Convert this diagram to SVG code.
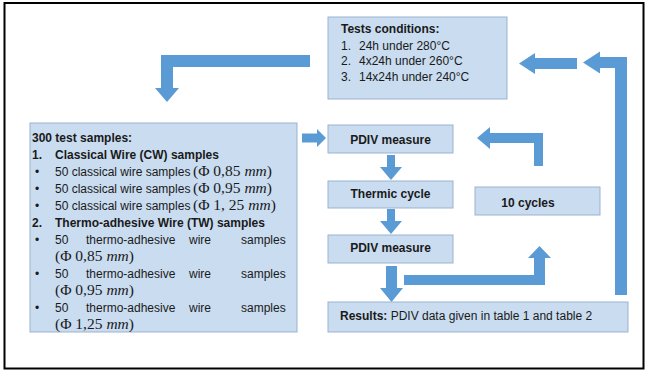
<svg xmlns="http://www.w3.org/2000/svg" width="646" height="372" viewBox="0 0 646 372">
<style>
.box{fill:#c9dcf0;stroke:#9bb3cf;stroke-width:1}
.arr{fill:#5b9bd5}
text{font-family:"Liberation Sans",Arial,sans-serif;font-size:12px;fill:#1a1a1a}
.b{font-weight:bold}
.m{font-family:"Liberation Serif","Times New Roman",serif;font-size:15.5px}
.i{font-style:italic}
.c{text-anchor:middle}
</style>
<rect x="0" y="0" width="646" height="372" fill="#ffffff"/>
<rect x="4.5" y="3" width="639" height="365.5" fill="none" stroke="#000" stroke-width="2"/>
<g id="connectors">
<polygon class="arr" points="310,55 310,67 173,67 173,88 179,88 167,102 155,88 161,88 161,55"/>
<polygon class="arr" points="519,63.5 535,53 535,58 577,58 577,69 535,69 535,74"/>
<polygon class="arr" points="627,57 627,295 615,295 615,68 600,68 600,73.5 583,62.5 600,51.5 600,57"/>
<polygon class="arr" points="302,133.5 317,133.5 317,129 326,138 317,147 317,142.5 302,142.5"/>
<polygon class="arr" points="387,155 395,155 395,167 402,167 391,180 380,167 387,167"/>
<polygon class="arr" points="387,209 395,209 395,221 402,221 391,234 380,221 387,221"/>
<polygon class="arr" points="386,266 397,266 397,288 403,288 391.5,302 380,288 386,288"/>
<polygon class="arr" points="404,275 534,275 534,258 528,258 539.5,246 551,258 545,258 545,285 404,285"/>
<polygon class="arr" points="543,133 543,166 534,166 534,143 490,143 490,149 477,138 490,127 490,133"/>
</g>
<g id="tests">
<rect class="box" x="328" y="17" width="179" height="82"/>
<text class="b" x="341" y="33">Tests conditions:</text>
<text x="341" y="49.5">1.</text><text x="359" y="49.5">24h under 280°C</text>
<text x="341" y="65">2.</text><text x="359" y="65">4x24h under 260°C</text>
<text x="341" y="80.5">3.</text><text x="359" y="80.5">14x24h under 240°C</text>
</g>
<g id="samples">
<rect class="box" x="30" y="123" width="267" height="209"/>
<text class="b" x="32" y="141.5">300 test samples:</text>
<text class="b" x="32" y="158.5">1.</text><text class="b" x="55" y="158.5">Classical Wire (CW) samples</text>
<text x="35" y="175.5">•</text><text x="55" y="175.5">50 classical wire samples </text><text class="m" x="193" y="175.5">(Φ 0,85 <tspan class="i">mm</tspan>)</text>
<text x="35" y="192.5">•</text><text x="55" y="192.5">50 classical wire samples </text><text class="m" x="193" y="192.5">(Φ 0,95 <tspan class="i">mm</tspan>)</text>
<text x="35" y="209.5">•</text><text x="55" y="209.5">50 classical wire samples </text><text class="m" x="193" y="209.5">(Φ 1, 25 <tspan class="i">mm</tspan>)</text>
<text class="b" x="32" y="226.5">2.</text><text class="b" x="55" y="226.5">Thermo-adhesive Wire (TW) samples</text>
<text x="35" y="243.5">•</text><text x="55" y="243.5">50</text><text x="86" y="243.5">thermo-adhesive</text><text x="189" y="243.5">wire</text><text x="241" y="243.5">samples</text>
<text class="m" x="55" y="260.5">(Φ 0,85 <tspan class="i">mm</tspan>)</text>
<text x="35" y="277.5">•</text><text x="55" y="277.5">50</text><text x="86" y="277.5">thermo-adhesive</text><text x="189" y="277.5">wire</text><text x="241" y="277.5">samples</text>
<text class="m" x="55" y="294.5">(Φ 0,95 <tspan class="i">mm</tspan>)</text>
<text x="35" y="311.5">•</text><text x="55" y="311.5">50</text><text x="86" y="311.5">thermo-adhesive</text><text x="189" y="311.5">wire</text><text x="241" y="311.5">samples</text>
<text class="m" x="55" y="328.5">(Φ 1,25 <tspan class="i">mm</tspan>)</text>
</g>
<g id="pdiv1">
<rect class="box" x="328" y="125" width="125" height="28"/>
<text class="b c" x="390.5" y="143.5">PDIV measure</text>
</g>
<g id="thermic">
<rect class="box" x="328" y="181" width="125" height="27"/>
<text class="b c" x="390.5" y="197.5">Thermic cycle</text>
</g>
<g id="pdiv2">
<rect class="box" x="328" y="235" width="125" height="28"/>
<text class="b c" x="390.5" y="251.5">PDIV measure</text>
</g>
<g id="cycles">
<rect class="box" x="475" y="187" width="125" height="28"/>
<text class="b c" x="528" y="206.5">10 cycles</text>
</g>
<g id="results">
<rect class="box" x="328" y="302" width="300" height="30"/>
<text x="340" y="319.5"><tspan class="b">Results:</tspan> PDIV data given in table 1 and table 2</text>
</g>
</svg>
